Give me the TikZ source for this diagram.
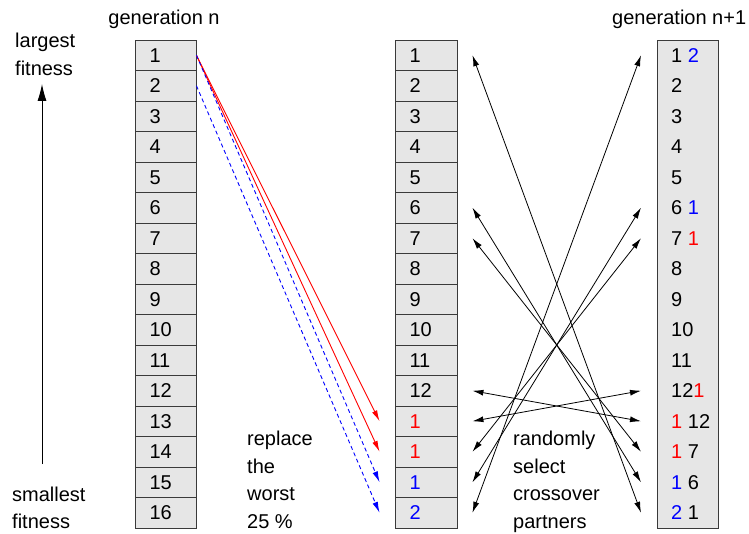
\documentclass[tikz,border=0pt]{standalone}
\usepackage{fontspec}
\setmainfont{Liberation Sans}
\usetikzlibrary{arrows.meta,calc}
\definecolor{cellgray}{HTML}{E6E6E6}
\definecolor{cellline}{HTML}{3A3A3A}
\begin{document}
\begin{tikzpicture}[x=1pt,y=-1pt,
  every node/.style={font=\fontsize{20}{24}\selectfont},
  cell/.style={draw=cellline, line width=0.9pt, fill=cellgray, minimum height=30.5pt,
    inner ysep=0pt, inner xsep=14.5pt, text width=32pt, align=left},
  lbl/.style={anchor=base west, inner sep=0pt},
  rtxt/.style={anchor=west, inner sep=0pt},
  redarr/.style={red, line width=0.9pt, -{Latex[length=11pt,width=5.5pt]}},
  bluearr/.style={blue, line width=0.9pt, dash pattern=on 4pt off 3pt, -{Latex[length=11pt,width=5.5pt]}},
  partner/.style={black, line width=0.8pt, {Latex[length=11pt,width=6pt]}-{Latex[length=11pt,width=6pt]}}
]
\useasboundingbox (0,0) rectangle (749,534);

% headings
\node[anchor=base] (gn) at (164,25) {generation n};
\node[lbl] (gn1) at (612,25) {generation n+1};

% left side fitness labels
\node[lbl] (lg1) at (15,48) {largest};
\node[lbl] (lg2) at (15,76) {fitness};
\node[lbl] (sm1) at (12,501) {smallest};
\node[lbl] (sm2) at (12,528) {fitness};
\coordinate (vb) at (42,464);
\coordinate (vt) at (42,84);
\draw[line width=0.9pt, -{Latex[length=17pt,width=9pt]}] (vb) -- (vt);

% generation n
\foreach \i in {1,...,16}
  \node[cell] (L\i) at (165.5,{40+30.5*(\i-0.5)}) {\i};

% middle column
\foreach \i/\t in {1/1,2/2,3/3,4/4,5/5,6/6,7/7,8/8,9/9,10/10,11/11,12/12,
  13/\textcolor{red}{1},14/\textcolor{red}{1},15/\textcolor{blue}{1},16/\textcolor{blue}{2}}
  \node[cell, text width=33pt] (M\i) at (426,{40+30.5*(\i-0.5)}) {\t};

% generation n+1
\node[draw=cellline, line width=0.9pt, fill=cellgray, minimum width=61pt, minimum height=488pt,
  anchor=north west, inner sep=0pt] (R) at (657,40) {};
\foreach \i/\t in {1/1 \textcolor{blue}{2},2/2,3/3,4/4,5/5,6/6 \textcolor{blue}{1},
  7/7 \textcolor{red}{1},8/8,9/9,10/10,11/11,12/12\textcolor{red}{1},
  13/\textcolor{red}{1} 12,14/\textcolor{red}{1} 7,15/\textcolor{blue}{1} 6,16/\textcolor{blue}{2} 1}
  \node[rtxt] (r\i) at (671,{40+30.5*(\i-0.5)}) {\t};

% arrow end points
\foreach \i in {13,14,15,16}
  \coordinate (in\i) at ($(M\i.west)+(-15,0)$);
\foreach \i in {1,6,7,12,13,14,15,16}{
  \coordinate (ml\i) at ($(M\i.east)+(15,0)$);
  \coordinate (rr\i) at ($(R.west |- M\i)+(-16,0)$);
}

% replacement arrows
\draw[redarr] (L1.east) -- (in13);
\draw[redarr] (L1.east) -- (in14);
\draw[bluearr] (L1.east) -- (in15);
\draw[bluearr] (L2.east) -- (in16);

% crossover partners
\draw[partner] (ml1) -- (rr16);
\draw[partner] (ml16) -- (rr1);
\draw[partner] (ml6) -- (rr15);
\draw[partner] (ml7) -- (rr14);
\draw[partner] (ml12) -- (rr13);
\draw[partner] (ml13) -- (rr12);
\draw[partner] (ml14) -- (rr7);
\draw[partner] (ml15) -- (rr6);

% captions
\node[lbl] (rp1) at (247,445) {replace};
\node[lbl] (rp2) at (247,473) {the};
\node[lbl] (rp3) at (247,500.5) {worst};
\node[lbl] (rp4) at (247,528) {25 \%};
\node[lbl] (rs1) at (513,445) {randomly};
\node[lbl] (rs2) at (513,473) {select};
\node[lbl] (rs3) at (513,500.5) {crossover};
\node[lbl] (rs4) at (513,528) {partners};
\end{tikzpicture}
\end{document}
